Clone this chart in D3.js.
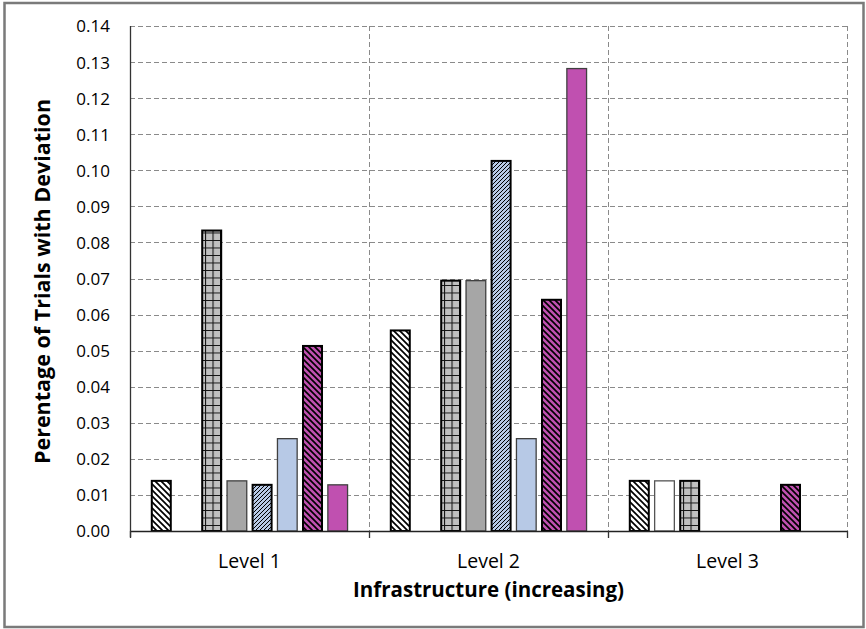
<!DOCTYPE html>
<html>
<head>
<meta charset="utf-8">
<script src="https://cdn.jsdelivr.net/npm/d3@7"></script>
<style>
  html, body { margin: 0; padding: 0; background: #ffffff; }
  svg { display: block; }
  text { font-family: "Open Sans", "DejaVu Sans", sans-serif; fill: #000; }
</style>
</head>
<body>
<svg id="chart" width="866" height="629"></svg>
<script>
// ---------------- data ----------------
const categories = ["Level 1", "Level 2", "Level 3"];
const seriesNames = ["S1", "S2", "S3", "S4", "S5", "S6", "S7", "S8"];
const s1 = [0.0139, 0.0556, 0.0139];
const s2 = [0.0000, 0.0000, 0.0139];
const s3 = [0.0833, 0.0694, 0.0139];
const s4 = [0.0139, 0.0694, 0.0000];
const s5 = [0.0128, 0.1026, 0.0000];
const s6 = [0.0256, 0.0256, 0.0000];
const s7 = [0.0513, 0.0641, 0.0128];
const s8 = [0.0128, 0.1282, 0.0000];
const seriesValues = [s1, s2, s3, s4, s5, s6, s7, s8];
const yTicks = [0.00, 0.01, 0.02, 0.03, 0.04, 0.05, 0.06, 0.07, 0.08, 0.09, 0.10, 0.11, 0.12, 0.13, 0.14];
const yTitle = "Perentage of Trials with Deviation";
const xTitle = "Infrastructure (increasing)";

// ---------------- styles ----------------
const fills = ["url(#pDiagW)", "#ffffff", "url(#pGrid)", "#a6a6a6", "url(#pDiagB)", "#b7c9e6", "url(#pDiagM)", "#c050b0"];
const strokes = ["#000", "#555", "#000", "#404040", "#000", "#404040", "#000", "#404040"];
const strokeW = [2, 1.3, 2, 1.3, 2, 1.3, 2, 1.3];

const svg = d3.select("#chart");
const defs = svg.append("defs");

function diagPattern(id, bg, size, sw, dir) {
  const p = defs.append("pattern").attr("id", id)
    .attr("patternUnits", "userSpaceOnUse").attr("width", size).attr("height", size);
  p.append("rect").attr("width", size).attr("height", size).attr("fill", bg);
  const d = dir === "down"
    ? `M0,0 L${size},${size} M${-size/2},${size/2} L${size/2},${size*1.5} M${size/2},${-size/2} L${size*1.5},${size/2}`
    : `M0,${size} L${size},0 M${-size/2},${size/2} L${size/2},${-size/2} M${size/2},${size*1.5} L${size*1.5},${size/2}`;
  p.append("path").attr("d", d).attr("stroke", "#000").attr("stroke-width", sw).attr("fill", "none");
}
diagPattern("pDiagW", "#ffffff", 6, 1.7, "down");
diagPattern("pDiagM", "#c050b0", 6, 1.7, "down");
diagPattern("pDiagB", "#b7c9e6", 4, 1.0, "up");
{
  const size = 7.5;
  const p = defs.append("pattern").attr("id", "pGrid")
    .attr("patternUnits", "userSpaceOnUse").attr("width", size).attr("height", size);
  p.append("rect").attr("width", size).attr("height", size).attr("fill", "#c0c0c0");
  p.append("path").attr("d", `M0.5,0 V${size} M0,0.5 H${size}`)
    .attr("stroke", "#111").attr("stroke-width", 1.1).attr("fill", "none");
}

// ---------------- frame ----------------
svg.append("rect").attr("x", 4.5).attr("y", 3).attr("width", 859).attr("height", 624)
  .attr("fill", "#fff").attr("stroke", "#7a7a7a").attr("stroke-width", 2.5);

// ---------------- scales ----------------
const pLeft = 130, pRight = 847, pTop = 26, pBottom = 531;
const x0 = d3.scaleBand().domain(categories).range([pLeft, pRight]).paddingInner(0).paddingOuter(0);
const x1 = d3.scaleBand().domain(seriesNames).range([0, x0.bandwidth()])
  .paddingInner(0.1667).paddingOuter(0.825);
const y = d3.scaleLinear().domain([0, 0.14]).range([pBottom, pTop]);

// ---------------- gridlines ----------------
const grid = svg.append("g");
grid.selectAll("line.h").data(yTicks.filter(t => t > 0)).join("line")
  .attr("x1", pLeft).attr("x2", pRight)
  .attr("y1", d => Math.round(y(d)) + 0.5).attr("y2", d => Math.round(y(d)) + 0.5)
  .attr("stroke", "#8a8a8a").attr("stroke-width", 1).attr("stroke-dasharray", "5,3");
grid.selectAll("line.v").data(categories).join("line")
  .attr("x1", d => Math.round(x0(d) + x0.bandwidth()) + 0.5)
  .attr("x2", d => Math.round(x0(d) + x0.bandwidth()) + 0.5)
  .attr("y1", y(0.14)).attr("y2", pBottom)
  .attr("stroke", "#8a8a8a").attr("stroke-width", 1).attr("stroke-dasharray", "5,3");

// ---------------- bars ----------------
const groups = svg.append("g").selectAll("g").data(categories).join("g")
  .attr("transform", d => `translate(${x0(d)},0)`);
groups.each(function(cat, ci) {
  const g = d3.select(this);
  seriesNames.forEach((s, si) => {
    const v = seriesValues[si][ci];
    if (!v) return;
    g.append("rect")
      .attr("x", x1(s) + strokeW[si] / 2)
      .attr("width", x1.bandwidth() - strokeW[si])
      .attr("y", y(v))
      .attr("height", y(0) - y(v))
      .attr("fill", fills[si])
      .attr("stroke", strokes[si])
      .attr("stroke-width", strokeW[si]);
  });
});

// ---------------- axes ----------------
const yAxis = svg.append("g").attr("transform", `translate(${pLeft},0)`)
  .call(d3.axisLeft(y).tickValues(yTicks).tickFormat(d3.format(".2f")).tickSize(0).tickPadding(20));
yAxis.select(".domain").attr("d", `M0.5,${pTop}V${pBottom + 6}`).attr("stroke", "#333").attr("stroke-width", 1.3);
yAxis.selectAll("text").style("font-size", "17px").attr("font-family", null).attr("dy", "0.35em");

const xAxis = svg.append("g").attr("transform", `translate(0,${pBottom})`);
xAxis.append("line").attr("x1", pLeft).attr("x2", pRight).attr("y1", 0.5).attr("y2", 0.5)
  .attr("stroke", "#222").attr("stroke-width", 1.5);
xAxis.selectAll("line.tick").data([0, 1, 2, 3]).join("line")
  .attr("x1", i => Math.round(pLeft + i * x0.bandwidth()) + 0.5)
  .attr("x2", i => Math.round(pLeft + i * x0.bandwidth()) + 0.5)
  .attr("y1", 0).attr("y2", 7).attr("stroke", "#333").attr("stroke-width", 1.3);
xAxis.selectAll("text").data(categories).join("text")
  .attr("x", d => x0(d) + x0.bandwidth() / 2).attr("y", 37)
  .attr("text-anchor", "middle").style("font-size", "19.5px").text(d => d);

// ---------------- titles ----------------
svg.append("text").attr("x", (pLeft + pRight) / 2).attr("y", 597)
  .attr("text-anchor", "middle").style("font-size", "20.5px").style("font-weight", "bold")
  .text(xTitle);
svg.append("text").attr("transform", `translate(50,${(pTop + pBottom) / 2 + 3}) rotate(-90)`)
  .attr("text-anchor", "middle").style("font-size", "21.5px").style("font-weight", "bold")
  .text(yTitle);
</script>
</body>
</html>
